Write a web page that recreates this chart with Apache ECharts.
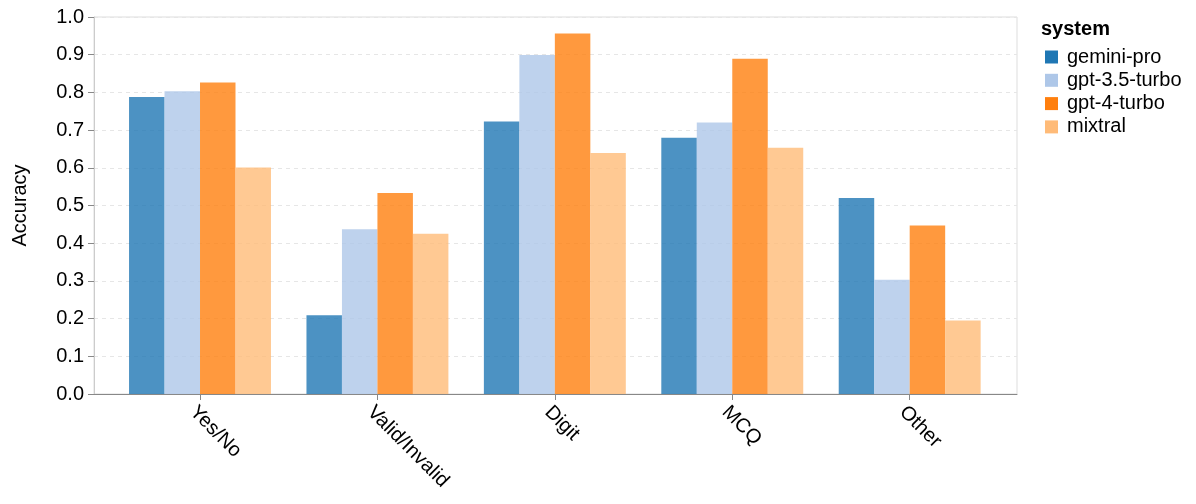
<!DOCTYPE html>
<html>
<head>
<meta charset="utf-8">
<script src="https://cdn.jsdelivr.net/npm/echarts@6/dist/echarts.min.js"></script>
<style>html,body{margin:0;padding:0;background:#fff}#c{width:1196px;height:504px}</style>
</head>
<body>
<div id="c"></div>
<script>
const categories = ['Yes/No', 'Valid/Invalid', 'Digit', 'MCQ', 'Other'];
const systems = ['gemini-pro', 'gpt-3.5-turbo', 'gpt-4-turbo', 'mixtral'];
const geminiPro = [0.788, 0.209, 0.723, 0.680, 0.520];
const gpt35Turbo = [0.803, 0.437, 0.899, 0.720, 0.303];
const gpt4Turbo = [0.826, 0.533, 0.956, 0.889, 0.447];
const mixtral = [0.601, 0.425, 0.639, 0.653, 0.195];
const yTicks = [0, 0.1, 0.2, 0.3, 0.4, 0.5, 0.6, 0.7, 0.8, 0.9, 1.0];

const seriesValues = [geminiPro, gpt35Turbo, gpt4Turbo, mixtral];
const colors = ['#1f77b4', '#aec7e8', '#ff7f0e', '#ffbb78'];
const FONT = '"Liberation Sans", Helvetica, Arial, sans-serif';

const chart = echarts.init(document.getElementById('c'), null, {renderer: 'canvas'});
chart.setOption({
  animation: false,
  backgroundColor: '#fff',
  textStyle: {fontFamily: FONT, color: '#000'},
  title: {
    text: 'system', left: 1041, top: 19, padding: 0,
    textStyle: {fontFamily: FONT, fontSize: 20, fontWeight: 'bold', color: '#000'}
  },
  legend: {
    orient: 'vertical', left: 1045, top: 47, padding: 0,
    icon: 'rect', itemWidth: 13, itemHeight: 13, itemGap: 3.3,
    textStyle: {fontFamily: FONT, fontSize: 20, lineHeight: 20, color: '#000', padding: [0, 0, 0, 4]},
    itemStyle: {opacity: 1, borderWidth: 0},
    data: systems.map((s, i) => ({name: s, itemStyle: {color: colors[i], opacity: 1}}))
  },
  grid: [
    {left: 94, right: 179, top: 17, bottom: 110, show: true, borderColor: '#ddd', borderWidth: 1, backgroundColor: 'transparent'},
    {left: 111.3, right: 197.6, top: 17, bottom: 110}
  ],
  xAxis: [
    {gridIndex: 0, type: 'value', min: 0, max: 1, axisLine: {show: true, lineStyle: {color: '#888', width: 1}},
     axisTick: {show: false}, axisLabel: {show: false}, splitLine: {show: false}},
    {gridIndex: 1, type: 'category', data: categories, boundaryGap: true,
     axisLine: {show: false},
     axisTick: {show: true, alignWithLabel: true, length: 6, lineStyle: {color: '#888'}},
     axisLabel: {interval: 0, rotate: -45, margin: 8, verticalAlign: 'top', lineHeight: 20,
                 fontFamily: FONT, fontSize: 20, color: '#000'},
     splitLine: {show: false}}
  ],
  yAxis: [
    {gridIndex: 0, type: 'value', min: 0, max: 1, interval: 0.1,
     name: 'Accuracy', nameLocation: 'middle', nameRotate: 90, nameGap: 64,
     nameTextStyle: {fontFamily: FONT, fontSize: 20, color: '#000'},
     axisLine: {show: true, lineStyle: {color: '#ccc'}},
     axisTick: {show: true, length: 6, lineStyle: {color: '#888'}},
     axisLabel: {margin: 10, fontFamily: FONT, fontSize: 20, color: '#000', formatter: v => v.toFixed(1)},
     splitLine: {show: true, lineStyle: {color: '#e6e6e6', type: [4, 4], width: 1}}},
    {gridIndex: 1, type: 'value', min: 0, max: 1, show: false, splitLine: {show: false}}
  ],
  series: systems.map((s, i) => ({
    name: s, type: 'bar', xAxisIndex: 1, yAxisIndex: 1,
    data: seriesValues[i],
    barGap: '0%', barCategoryGap: '20%',
    itemStyle: {color: colors[i], opacity: 0.8}
  }))
});
</script>
</body>
</html>
